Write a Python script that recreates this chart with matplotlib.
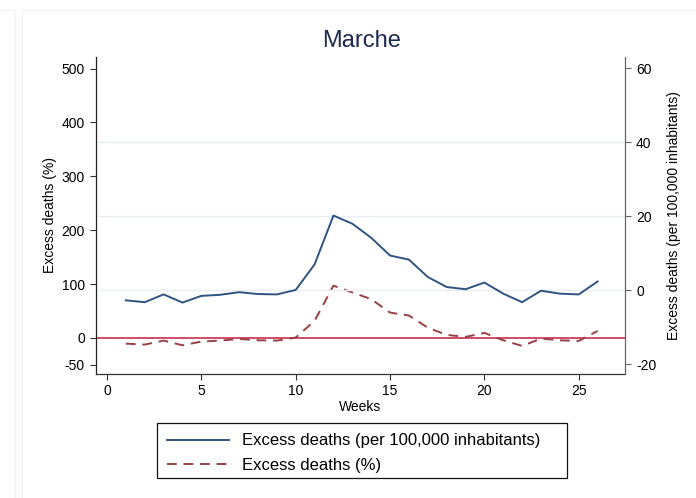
import matplotlib
matplotlib.use("Agg")
import matplotlib.pyplot as plt
from matplotlib.lines import Line2D
from matplotlib.patches import Rectangle

plt.rcParams['font.family'] = ['Liberation Sans', 'DejaVu Sans']
plt.rcParams['axes.unicode_minus'] = False

# weekly data, Marche
weeks = list(range(1, 27))
excess_per_100k = [-2.7, -3.2, -1.1, -3.3, -1.5, -1.2, -0.5, -1.0, -1.1, 0.1,
                   7.0, 20.2, 18.0, 14.2, 9.4, 8.3, 3.6, 0.9, 0.3, 2.1,
                   -0.9, -3.2, -0.1, -0.9, -1.1, 2.4]
excess_pct = [-10.6, -12.4, -5.0, -13.7, -6.8, -5.0, -1.9, -4.4, -5.0, 0.6,
              31.7, 97.0, 84.5, 72.0, 47.0, 41.6, 19.0, 5.6, 1.9, 9.3,
              -4.4, -14.9, -1.2, -4.4, -5.6, 13.0]

x_ticks = [0, 5, 10, 15, 20, 25]
left_ticks = [-50, 0, 100, 200, 300, 400, 500]
right_ticks = [-20, 0, 20, 40, 60]
grid_vals = [0, 20, 40]
ref_line = 0

blue = '#2f5482'
maroon = '#9a3f45'
red = '#c41e3a'

fig = plt.figure(figsize=(6.96, 4.98), dpi=100)
ax = fig.add_axes([0.138, 0.249, 0.760, 0.637])
ax2 = ax.twinx()

# gridlines follow the right axis
for g in grid_vals:
    ax2.axhline(g, xmin=0.004, xmax=0.996, color='#e9eff0', linewidth=1.0, zorder=0)

ax.axhline(ref_line, color=red, linewidth=1.1, zorder=1)

l2, = ax.plot(weeks, excess_pct, color=maroon, linewidth=1.4,
              linestyle=(0, (5, 3.5)), label='Excess deaths (%)', zorder=2)
l1, = ax2.plot(weeks, excess_per_100k, color=blue, linewidth=1.4,
               label='Excess deaths (per 100,000 inhabitants)', zorder=3)

ax.set_xlim(-0.58, 27.45)
ax.set_ylim(-67, 522)
ax2.set_ylim(-22.6, 63.1)

ax.set_xticks(x_ticks)
ax.set_yticks(left_ticks)
ax2.set_yticks(right_ticks)

for a in (ax, ax2):
    a.spines['top'].set_visible(False)
    a.set_facecolor('none')
ax.spines['left'].set_color('#222222')
ax.spines['bottom'].set_color('#333333')
ax2.spines['right'].set_color('#666666')
ax2.spines['left'].set_visible(False)
ax2.spines['bottom'].set_visible(False)
ax.spines['right'].set_visible(False)
for s in ('left', 'bottom'):
    ax.spines[s].set_linewidth(0.9)
ax2.spines['right'].set_linewidth(0.9)

ax.tick_params(axis='both', labelsize=10, length=4.5, width=0.8, color='#333333')
ax.tick_params(axis='x', pad=3)
ax2.tick_params(axis='y', labelsize=10, length=4.5, width=0.8, color='#666666')

ax.set_xlabel('Weeks', fontsize=10, labelpad=1)
ax.set_ylabel('Excess deaths (%)', fontsize=10, labelpad=3)
ax2.set_ylabel('Excess deaths (per 100,000 inhabitants)', fontsize=10, labelpad=8)

fig.text(0.519, 0.918, 'Marche', ha='center', va='center', fontsize=17,
         color='#1c2a4f')

# legend without its own frame; box drawn separately (wider on the right like the original)
leg = fig.legend(handles=[l1, l2], loc='center left', bbox_to_anchor=(159/696, 0.090),
                 fontsize=12, frameon=False, handlelength=3.7,
                 handletextpad=0.75, borderpad=0.0, labelspacing=0.58)
fig.add_artist(Rectangle((157/696, 1 - 478/498), 410/696, 55/498,
                         transform=fig.transFigure, fill=False,
                         edgecolor='#111111', linewidth=0.9))

# faint outer frames from the screenshot
frame = '#f2f2f2'
fig.add_artist(Line2D([15/696, 15/696], [0, 1 - 10/498], transform=fig.transFigure, color=frame, lw=0.8))
fig.add_artist(Line2D([0, 15/696], [1 - 10/498, 1 - 10/498], transform=fig.transFigure, color=frame, lw=0.8))
fig.add_artist(Line2D([22/696, 22/696], [0, 1 - 10/498], transform=fig.transFigure, color=frame, lw=0.8))
fig.add_artist(Line2D([22/696, 1], [1 - 10/498, 1 - 10/498], transform=fig.transFigure, color=frame, lw=0.8))

fig.savefig('out.png', dpi=100)
